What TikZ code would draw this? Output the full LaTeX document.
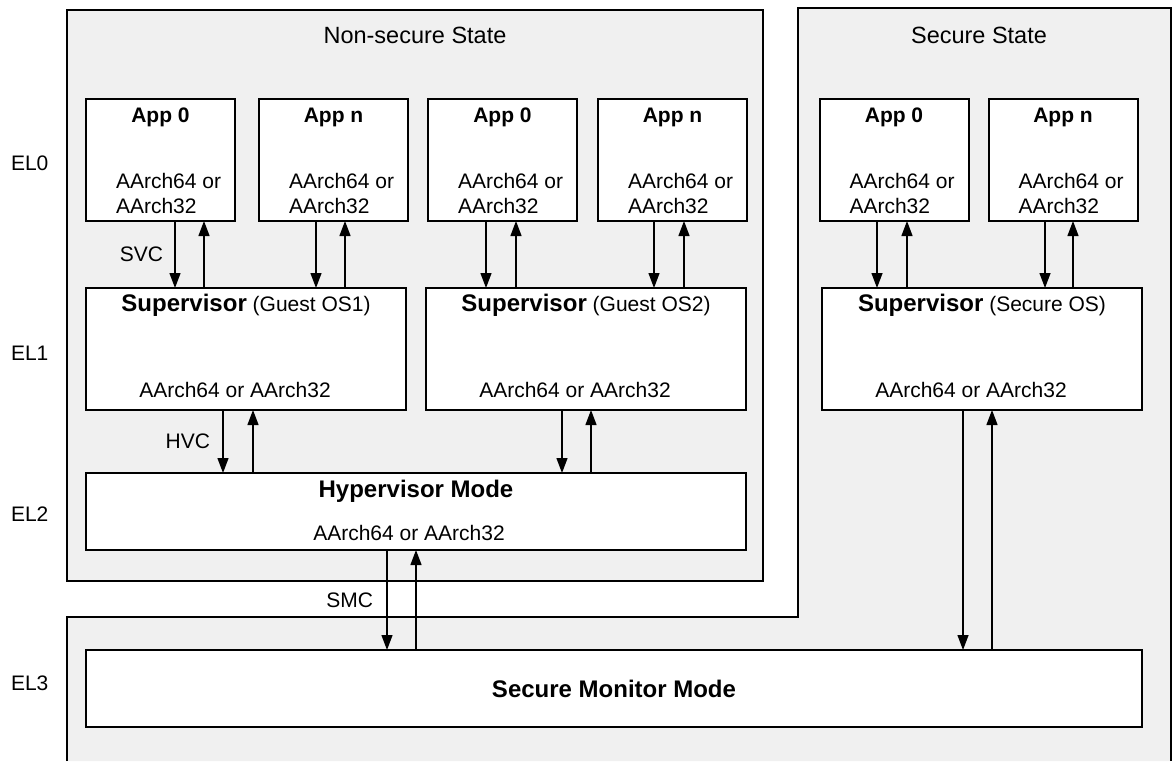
\documentclass[tikz,border=0pt]{standalone}
\usepackage{fontspec}
\setmainfont{Liberation Sans}
\usetikzlibrary{positioning,arrows.meta,calc}
\definecolor{panelgray}{HTML}{F0F0F0}

\begin{document}
\begin{tikzpicture}[x=1pt,y=-1pt,>={Triangle[length=15pt,width=11pt]},
  every node/.style={font=\fontsize{21}{25}\selectfont,inner sep=0pt,outer sep=0pt},
  box/.style={draw,fill=white,line width=2pt},
  appbox/.style={box,minimum width=149pt,minimum height=122pt},
  osbox/.style={box,minimum width=320pt,minimum height=122pt},
  modebox/.style={box,minimum height=77pt},
  call/.style={->,line width=1.3pt},
  title/.style={font=\fontsize{21}{25}\selectfont\bfseries},
  bigtitle/.style={font=\fontsize{24}{28}\selectfont\bfseries},
  statetitle/.style={font=\fontsize{23.5}{28}\selectfont}]
\useasboundingbox (0,0) rectangle (1173,761);
% secure state and EL3 area
\fill[panelgray] (67,761) -- (67,617) -- (798,617) -- (798,8) -- (1171,8) -- (1171,761) -- cycle;
\draw[line width=2pt] (67,761) -- (67,617) -- (798,617) -- (798,8) -- (1171,8) -- (1171,761);
\node[statetitle,anchor=base] (sstitle) at (979,43) {Secure State};
% non-secure state
\node[draw,fill=panelgray,line width=2pt,minimum width=696pt,minimum height=571pt] (ns) at (415,295.5) {};
\node[statetitle,anchor=base] (nstitle) at ([yshift=-33pt]ns.north) {Non-secure State};
% exception levels
\node[anchor=west] (el0) at (11,163) {EL0};
\node[anchor=west] (el1) at (11,353) {EL1};
\node[anchor=west] (el2) at (11,514) {EL2};
\node[anchor=west] (el3) at (11,683) {EL3};
% applications
\node[appbox] (a1) at (160.5,160) {};
\node[appbox,right=24pt of a1] (a2) {};
\node[appbox,right=20pt of a2] (a3) {};
\node[appbox,right=21pt of a3] (a4) {};
\node[appbox] (a5) at (894,160) {};
\node[appbox,right=20pt of a5] (a6) {};
\foreach \n/\t in {a1/App 0,a2/App n,a3/App 0,a4/App n,a5/App 0,a6/App n} {
  \node[title,anchor=base] (\n-t) at ([yshift=-23pt]\n.north) {\t};
  \node[anchor=base west,align=left] (\n-a) at ([xshift=30pt,yshift=8pt]\n.south west) {AArch64 or\\AArch32};
}
% supervisors
\node[osbox] (s1) at (246,349) {};
\node[osbox,right=20pt of s1] (s2) {};
\node[osbox] (s3) at (982,349) {};
\foreach \n/\t in {s1/Guest OS1,s2/Guest OS2,s3/Secure OS} {
  \node[anchor=base] (\n-t) at ([yshift=-23pt]\n.north) {{\fontsize{24}{28}\selectfont\bfseries Supervisor} (\t)};
  \node[anchor=base] (\n-a) at ([xshift=-11pt,yshift=13pt]\n.south) {AArch64 or AArch32};
}
% hypervisor and monitor
\node[modebox,minimum width=660pt] (hyp) at (416,511.5) {};
\node[bigtitle,anchor=base] (hyp-t) at ([yshift=-24pt]hyp.north) {Hypervisor Mode};
\node[anchor=base] (hyp-a) at ([xshift=-7pt,yshift=10pt]hyp.south) {AArch64 or AArch32};
\node[modebox,minimum width=1056pt,bigtitle] (mon) at (614,688.5) {Secure Monitor Mode};
% calls and returns
\draw[call] ([xshift=14.5pt]a1.south) -- ([xshift=14.5pt]a1.south |- s1.north) node[midway,left=12pt] (svc) {SVC};
\draw[call] ([xshift=-23pt]s1.south) -- ([xshift=-23pt]s1.south |- hyp.north) node[midway,left=13pt] (hvc) {HVC};
\draw[call] ([xshift=-29pt]hyp.south) -- ([xshift=-29pt]hyp.south |- mon.north) node[midway,left=14pt] (smc) {SMC};
\foreach \t/\b/\u in {a1/s1/43.5,s1/hyp/7,hyp/mon/0}
  \draw[call] ([xshift=\u pt]\t.south |- \b.north) -- ([xshift=\u pt]\t.south);
\foreach \t/\b/\d/\u in {a2/s1/-17.5/11.5,a3/s2/-16.5/13.5,a4/s2/-18.5/11.5,a5/s3/-17/13,a6/s3/-18/10,s2/hyp/-24/5,s3/mon/-19/10} {
  \draw[call] ([xshift=\d pt]\t.south) -- ([xshift=\d pt]\t.south |- \b.north);
  \draw[call] ([xshift=\u pt]\t.south |- \b.north) -- ([xshift=\u pt]\t.south);
}
\end{tikzpicture}
\end{document}
